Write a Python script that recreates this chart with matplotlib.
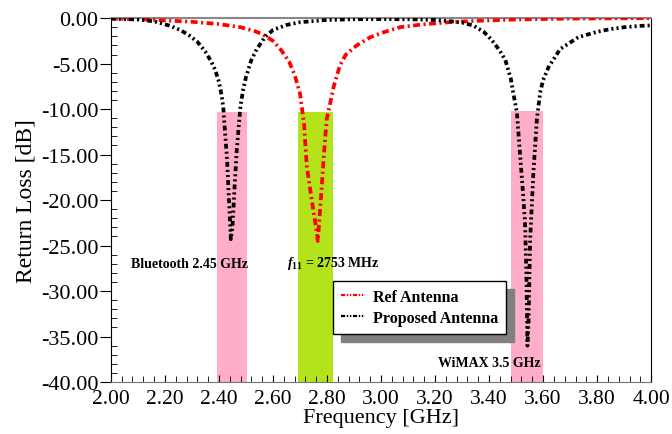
import matplotlib
matplotlib.use("Agg")
import matplotlib.pyplot as plt
from matplotlib.lines import Line2D
from matplotlib.ticker import MultipleLocator, FormatStrFormatter

# Proposed antenna (black)
freq_prop = [2.00, 2.10, 2.16, 2.22, 2.26, 2.29, 2.32, 2.35, 2.37, 2.385, 2.40, 2.41,
             2.416, 2.42, 2.43, 2.438, 2.444, 2.45, 2.458, 2.466, 2.475, 2.48, 2.49,
             2.50, 2.52, 2.54, 2.57, 2.60, 2.65, 2.70, 2.80, 2.90, 3.00, 3.10, 3.20,
             3.26, 3.30, 3.34, 3.38, 3.41, 3.44, 3.46, 3.48, 3.49, 3.503, 3.515, 3.525,
             3.533, 3.538, 3.542, 3.546, 3.552, 3.564, 3.577, 3.589, 3.60, 3.62, 3.663,
             3.73, 3.80, 3.85, 3.90, 3.96, 4.00]
rl_prop = [-0.05, -0.15, -0.35, -0.85, -1.35, -1.9, -2.6, -3.7, -4.7, -5.6, -7.0, -8.5,
           -9.8, -11.5, -15.5, -20.5, -24.3, -23.0, -18.5, -14.5, -11.3, -9.6, -7.8,
           -6.5, -4.6, -3.4, -2.1, -1.3, -0.75, -0.45, -0.2, -0.12, -0.1, -0.12, -0.2,
           -0.35, -0.5, -0.8, -1.5, -2.4, -3.6, -4.6, -6.6, -8.3, -10.4, -15.1, -19.0,
           -22.4, -28.0, -36.0, -33.4, -24.3, -17.0, -11.1, -8.2, -6.8, -5.4, -3.4,
           -2.1, -1.5, -1.2, -1.0, -0.85, -0.8]

# Reference antenna (red)
freq_ref = [2.00, 2.10, 2.20, 2.30, 2.40, 2.48, 2.53, 2.56, 2.60, 2.63, 2.66, 2.68,
            2.70, 2.706, 2.715, 2.725, 2.743, 2.762, 2.766, 2.772, 2.78, 2.789, 2.799,
            2.81, 2.825, 2.848, 2.87, 2.91, 2.96, 3.01, 3.07, 3.15, 3.25, 3.35, 3.50,
            3.70, 4.00]
rl_ref = [-0.05, -0.12, -0.25, -0.4, -0.65, -1.0, -1.4, -1.75, -2.5, -3.5, -4.8, -6.2,
          -8.3, -9.6, -11.6, -16.2, -19.9, -23.5, -24.5, -22.0, -18.8, -14.8, -11.1,
          -9.6, -7.5, -5.2, -4.0, -3.0, -2.1, -1.55, -1.0, -0.7, -0.45, -0.3, -0.15,
          -0.05, 0.0]

# highlighted bands (start, end GHz), top level in dB
band_lo = [2.391, 2.694, 3.481]
band_hi = [2.504, 2.823, 3.601]
band_top = [-10.3, -10.3, -10.2]
band_colors = ["#FFADCB", "#B4E31C", "#FFADCB"]

plt.rcParams["font.family"] = ["Liberation Serif", "DejaVu Serif"]
plt.rcParams["mathtext.fontset"] = "custom"
plt.rcParams["mathtext.it"] = "Liberation Serif:italic:bold"
plt.rcParams["mathtext.rm"] = "Liberation Serif:bold"
plt.rcParams["lines.scale_dashes"] = False

fig = plt.figure(figsize=(6.72, 4.35), dpi=100)
ax = fig.add_axes([0.165, 0.1195, 0.804, 0.8365])

for lo, hi, top, c in zip(band_lo, band_hi, band_top, band_colors):
    ax.fill_between([lo, hi], -40, top, color=c, lw=0, zorder=1)

ax.plot(freq_ref, rl_ref, color="red", lw=2.7, dashes=(5, 2.5, 1.5, 2.5), zorder=3)
ax.plot(freq_prop, rl_prop, color="black", lw=2.7, dashes=(3.5, 2.2, 1.5, 2.2, 1.5, 2.2), zorder=4)

ax.set_xlim(2.0, 4.0)
ax.set_ylim(-40, 0)
ax.xaxis.set_major_locator(MultipleLocator(0.2))
ax.xaxis.set_minor_locator(MultipleLocator(0.04))
ax.yaxis.set_major_locator(MultipleLocator(5))
ax.yaxis.set_minor_locator(MultipleLocator(1))
ax.xaxis.set_major_formatter(FormatStrFormatter("%.2f"))
ax.yaxis.set_major_formatter(FormatStrFormatter("%.2f"))
ax.tick_params(axis="x", which="major", direction="in", length=5, labelsize=15.5, pad=5)
ax.tick_params(axis="x", which="minor", direction="in", length=4)
ax.tick_params(axis="y", which="major", direction="out", length=8, labelsize=16, pad=1)
ax.tick_params(axis="y", which="minor", direction="in", length=4)
ax.spines["top"].set_color("#888888")
ax.spines["bottom"].set_color("#777777")
ax.spines["top"].set_linewidth(1.5)
ax.set_xlabel("Frequency [GHz]", fontsize=16, labelpad=0)
ax.set_ylabel("Return Loss [dB]", fontsize=17, labelpad=3)

ax.text(2.074, -27.0, "Bluetooth 2.45 GHz", fontsize=10, fontweight="bold", va="center", zorder=5)
ax.text(2.652, -26.9, r"$f_{\mathit{11}}$ = 2753 MHz", fontsize=10, fontweight="bold", va="center", zorder=5)
ax.text(3.211, -37.9, "WiMAX 3.5 GHz", fontsize=10, fontweight="bold", va="center", zorder=5)

handles = [Line2D([], [], color="red", lw=1.6, dashes=(3, 1.2, 1, 1.2, 1, 1.2)),
           Line2D([], [], color="black", lw=1.6, dashes=(3, 1.2, 1, 1.2, 1, 1.2))]
leg = ax.legend(handles, ["Ref Antenna", "Proposed Antenna"], loc="upper left",
                bbox_to_anchor=(0.411, 0.2775), borderaxespad=0, fancybox=False,
                framealpha=1, edgecolor="black", handlelength=1.5, handletextpad=0.5,
                labelspacing=0.3, borderpad=0.5,
                prop={"family": "Liberation Serif", "weight": "bold", "size": 11.5},
                shadow={"ox": 6, "oy": -6, "color": "#808080", "alpha": 1})
leg.get_frame().set_linewidth(1.0)
leg.set_zorder(6)

fig.savefig("out.png", dpi=100)
